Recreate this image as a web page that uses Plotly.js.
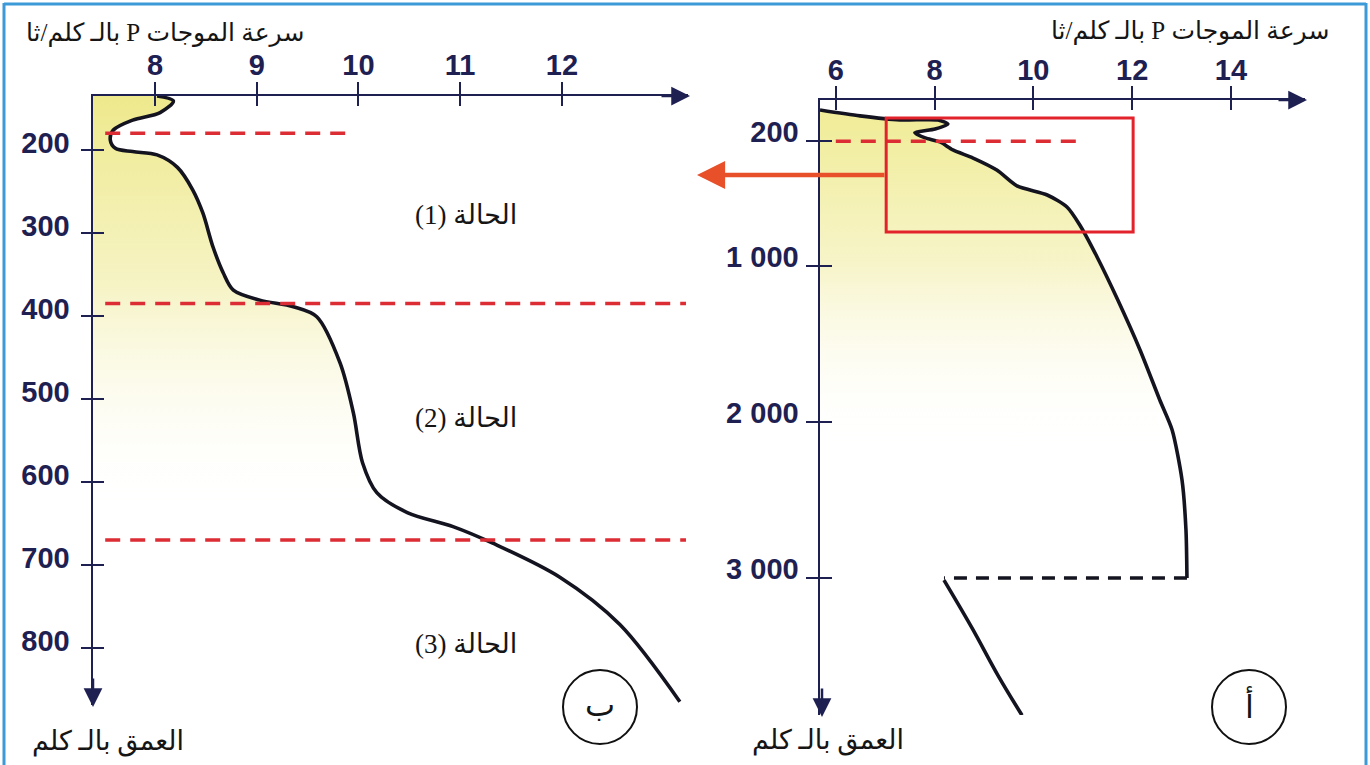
<!DOCTYPE html>
<html>
<head>
<meta charset="utf-8">
<script src="https://cdn.plot.ly/plotly-3.0.1.min.js"></script>
<style>html,body{margin:0;padding:0;background:#fff;}#chart{width:1370px;height:765px;}</style>
</head>
<body>
<div id="chart"></div>
<script>
// ---------- DATA ----------
// Panel ب (zoom on upper mantle): P-wave velocity (km/s) vs depth (km)
const leftVel   = [8.02, 8.18, 8.05, 7.78, 7.59, 7.56, 7.61, 7.78, 8.02, 8.22, 8.37, 8.47, 8.57, 8.67, 8.77, 9.03, 9.36, 9.59, 9.82, 9.95, 10.04, 10.18, 10.48, 10.93, 11.32, 11.98, 12.57, 13.16];
const leftDepth = [135, 141, 155, 164, 176, 188, 198, 202, 206, 221, 248, 276, 317, 348, 369, 381, 389, 401, 457, 517, 577, 613, 637, 654, 674, 715, 772, 865];
const leftBoundaryDepth    = [180, 385, 670];
const leftBoundaryStartVel = [7.51, 7.51, 7.51];
const leftBoundaryEndVel   = [9.94, 13.22, 13.22];
const phaseLabels = ['(1) الحالة', '(2) الحالة', '(3) الحالة'];
const phaseVel    = [11.06, 11.06, 11.06];
const phaseDepth  = [278, 523, 796];

// Panel أ (whole Earth down to the core)
const rightVel   = [5.68, 6.49, 7.30, 8.07, 8.27, 8.01, 7.60, 7.81, 8.11, 8.37, 8.78, 9.26, 9.67, 10.28, 10.68, 10.94, 11.29, 11.71, 12.16, 12.56, 12.81, 13.01, 13.09, 13.11];
const rightDepth = [0, 38, 64, 64, 90, 122, 147, 179, 205, 256, 308, 385, 487, 545, 622, 737, 942, 1218, 1538, 1859, 2051, 2372, 2692, 3000];
const coreGapVel   = [13.11, 8.19];
const coreGapDepth = [3000, 3000];
const coreVel   = [8.19, 8.76, 9.28, 9.77];
const coreDepth = [3013, 3321, 3622, 3880];
const rightBoundaryVel   = [6.0, 10.94];
const rightBoundaryDepth = [200, 200];
const zoomBoxVel   = [7.02, 12.02];
const zoomBoxDepth = [51, 782];

// Axes ticks
const xTicksLeft  = [8, 9, 10, 11, 12];
const yTicksLeft  = [200, 300, 400, 500, 600, 700, 800];
const xTicksRight = [6, 8, 10, 12, 14];
const yTicksRight = [200, 1000, 2000, 3000];
const yTickTextRight = ['200', '1 000', '2 000', '3 000'];

// Texts
const velTitle   = 'سرعة الموجات P بالـ كلم/ثا';
const depthTitle = 'العمق بالـ كلم';
const panelLetters = ['ب', 'أ'];

// ---------- STYLE ----------
const W = 1370, H = 765;
const px = p => p / W;
const py = p => 1 - p / H;
const NAVY = '#1f2052';
const CURVE = '#141421';
const RED = '#dc2c34';
const TICKFONT = {family: 'Liberation Sans, Arial, sans-serif', size: 29, color: NAVY, weight: 700};
const AR_FONT = 'Liberation Serif, DejaVu Sans, serif';

const xLeftRange  = [7.39, 13.24];
const yLeftRange  = [869, 135];
const xRightRange = [5.68, 15.5];
const yRightRange = [3878, -64];

function baseAxis(extra) {
  return Object.assign({
    showgrid: false, zeroline: false, fixedrange: true,
    tickcolor: NAVY, tickwidth: 2, linecolor: NAVY, linewidth: 2.5,
    tickfont: TICKFONT
  }, extra);
}

const traces = [];
// Left panel: fill + curve
traces.push({
  x: leftVel, y: leftDepth, xaxis: 'x', yaxis: 'y', mode: 'lines',
  line: {color: CURVE, width: 3.6, shape: 'spline', smoothing: 0.9},
  fill: 'tozerox',
  fillgradient: {type: 'vertical', start: 135, stop: 640,
    colorscale: [[0, 'rgba(238,233,140,1)'], [0.45, 'rgba(245,242,190,0.9)'], [1, 'rgba(255,255,255,0)']]},
  hoverinfo: 'skip', showlegend: false
});
leftBoundaryDepth.forEach((d, i) => {
  traces.push({
    x: [leftBoundaryStartVel[i], leftBoundaryEndVel[i]], y: [d, d], xaxis: 'x', yaxis: 'y',
    mode: 'lines', line: {color: RED, width: 3.5, dash: '15px,10px'}, hoverinfo: 'skip', showlegend: false
  });
});
// Right panel
traces.push({
  x: rightVel, y: rightDepth, xaxis: 'x2', yaxis: 'y2', mode: 'lines',
  line: {color: CURVE, width: 3.6, shape: 'spline', smoothing: 0.7},
  fill: 'tozerox',
  fillgradient: {type: 'vertical', start: 0, stop: 2200,
    colorscale: [[0, 'rgba(240,236,150,1)'], [0.45, 'rgba(246,243,195,0.9)'], [1, 'rgba(255,255,255,0)']]},
  hoverinfo: 'skip', showlegend: false
});
traces.push({
  x: rightBoundaryVel, y: rightBoundaryDepth, xaxis: 'x2', yaxis: 'y2', mode: 'lines',
  line: {color: RED, width: 3.5, dash: '15px,10px'}, hoverinfo: 'skip', showlegend: false
});
traces.push({
  x: coreGapVel, y: coreGapDepth, xaxis: 'x2', yaxis: 'y2', mode: 'lines',
  line: {color: CURVE, width: 3.6, dash: '13px,9px'}, hoverinfo: 'skip', showlegend: false
});
traces.push({
  x: coreVel, y: coreDepth, xaxis: 'x2', yaxis: 'y2', mode: 'lines',
  line: {color: CURVE, width: 3.6, shape: 'spline'}, hoverinfo: 'skip', showlegend: false
});
// invisible traces to activate the overlay axes (ticks crossing the axis line)
traces.push({x: [xTicksLeft[0]], y: [yTicksLeft[0]], xaxis: 'x3', yaxis: 'y3', mode: 'markers',
  marker: {opacity: 0}, hoverinfo: 'skip', showlegend: false});
traces.push({x: [xTicksRight[0]], y: [yTicksRight[0]], xaxis: 'x4', yaxis: 'y4', mode: 'markers',
  marker: {opacity: 0}, hoverinfo: 'skip', showlegend: false});

const layout = {
  width: W, height: H, margin: {l: 0, r: 0, t: 0, b: 0},
  paper_bgcolor: '#ffffff', plot_bgcolor: 'rgba(0,0,0,0)', showlegend: false,
  xaxis: baseAxis({domain: [px(93), px(688)], range: xLeftRange, side: 'top', anchor: 'y',
    showline: true, tickvals: xTicksLeft, ticks: 'outside', ticklen: 12, ticklabelstandoff: -5}),
  yaxis: baseAxis({domain: [py(705), py(96)], range: yLeftRange, side: 'left', anchor: 'x',
    showline: true, tickvals: yTicksLeft, ticks: 'outside', ticklen: 10, ticklabelstandoff: 5, ticklabelshift: 7}),
  xaxis3: baseAxis({overlaying: 'x', range: xLeftRange, side: 'top', anchor: 'y3',
    tickvals: xTicksLeft, ticks: 'inside', ticklen: 10, showticklabels: false, showline: false}),
  yaxis3: baseAxis({overlaying: 'y', range: yLeftRange, side: 'left', anchor: 'x3',
    tickvals: yTicksLeft, ticks: 'inside', ticklen: 11, showticklabels: false, showline: false}),
  xaxis2: baseAxis({domain: [px(820), px(1305)], range: xRightRange, side: 'top', anchor: 'y2',
    showline: true, tickvals: xTicksRight, ticks: 'outside', ticklen: 12, ticklabelstandoff: -6}),
  yaxis2: baseAxis({domain: [py(715), py(100)], range: yRightRange, side: 'left', anchor: 'x2',
    showline: true, tickvals: yTicksRight, ticktext: yTickTextRight, ticks: 'outside', ticklen: 12,
    ticklabelstandoff: 1, ticklabelshift: 9}),
  xaxis4: baseAxis({overlaying: 'x2', range: xRightRange, side: 'top', anchor: 'y4',
    tickvals: xTicksRight, ticks: 'inside', ticklen: 10, showticklabels: false, showline: false}),
  yaxis4: baseAxis({overlaying: 'y2', range: yRightRange, side: 'left', anchor: 'x4',
    tickvals: yTicksRight, ticks: 'inside', ticklen: 12, showticklabels: false, showline: false}),
  shapes: [
    // frame
    {type: 'line', xref: 'paper', yref: 'paper', x0: px(4), x1: px(4), y0: py(3), y1: 0, line: {color: '#3d9ad8', width: 3}},
    {type: 'line', xref: 'paper', yref: 'paper', x0: px(4), x1: px(1366), y0: py(4), y1: py(4), line: {color: '#3d9ad8', width: 3}},
    {type: 'line', xref: 'paper', yref: 'paper', x0: px(1366), x1: px(1366), y0: py(3), y1: 0, line: {color: '#3d9ad8', width: 3}},
    // zoom box
    {type: 'rect', xref: 'x2', yref: 'y2', x0: zoomBoxVel[0], x1: zoomBoxVel[1], y0: zoomBoxDepth[0], y1: zoomBoxDepth[1],
      line: {color: '#e3232b', width: 3}},
    // panel circles
    {type: 'circle', xref: 'paper', yref: 'paper', x0: px(563), x1: px(637), y0: py(670), y1: py(744), line: {color: '#111', width: 2}},
    {type: 'circle', xref: 'paper', yref: 'paper', x0: px(1212), x1: px(1286), y0: py(670), y1: py(744), line: {color: '#111', width: 2}}
  ],
  annotations: []
};

const A = layout.annotations;
// axis arrow heads
function arrowHead(x, y, ax, ay) {
  A.push({xref: 'paper', yref: 'paper', x: px(x), y: py(y), ax: ax, ay: ay, text: '', showarrow: true,
    arrowhead: 2, arrowsize: 1.5, arrowwidth: 2.5, arrowcolor: NAVY});
}
arrowHead(690, 96, -30, 0);
arrowHead(93, 707, 0, -30);
arrowHead(1307, 100, -30, 0);
arrowHead(822, 717, 0, -30);
// red arrow from zoom box to panel ب
A.push({xref: 'paper', yref: 'paper', x: px(697), y: py(175), ax: 189, ay: 0, text: '', showarrow: true,
  arrowhead: 2, arrowsize: 1.25, arrowwidth: 4.5, arrowcolor: '#e8502a'});

function txt(x, y, s, size, anchor, extra) {
  A.push(Object.assign({xref: 'paper', yref: 'paper', x: px(x), y: py(y), text: s, showarrow: false,
    xanchor: anchor, yanchor: 'middle', font: {family: AR_FONT, size: size, color: '#151515'}}, extra || {}));
}
txt(306, 34, '\u202B' + velTitle + '\u202C', 25, 'right');
txt(1331, 32, '\u202B' + velTitle + '\u202C', 25, 'right');
txt(186, 741, depthTitle, 27, 'right');
txt(906, 740, depthTitle, 27, 'right');
txt(600, 705, panelLetters[0], 32, 'center');
txt(1249, 705, panelLetters[1], 32, 'center');
phaseLabels.forEach((s, i) => {
  A.push({xref: 'x', yref: 'y', x: phaseVel[i], y: phaseDepth[i], text: s, showarrow: false,
    xanchor: 'center', yanchor: 'middle', font: {family: AR_FONT, size: 27, color: '#151515'}});
});

Plotly.newPlot('chart', traces, layout, {staticPlot: true, displayModeBar: false});
</script>
</body>
</html>
